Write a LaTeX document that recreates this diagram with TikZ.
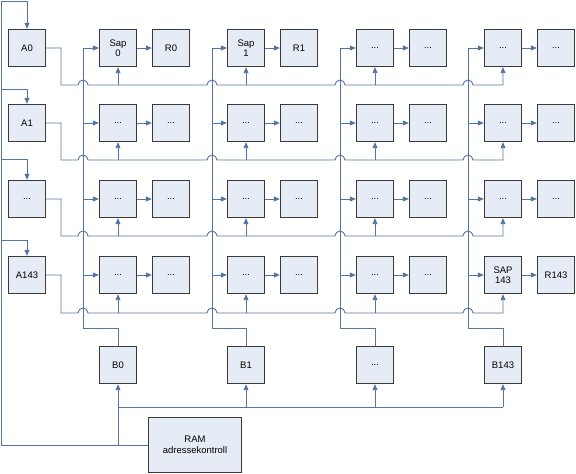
\documentclass[tikz,border=0pt]{standalone}
\usepackage{fontspec}
\setmainfont{Liberation Sans}
\usetikzlibrary{arrows.meta}
\definecolor{wirec}{HTML}{5474A4}
\definecolor{boxfill}{HTML}{E6ECF5}
\definecolor{boxline}{HTML}{3A3A3A}
\tikzset{
  box/.style={draw=boxline, fill=boxfill, line width=1.3pt, minimum width=37pt, minimum height=37pt,
    inner sep=1pt, align=center, font=\fontsize{9.5}{10.5}\selectfont},
  wire/.style={draw=wirec, line width=0.9pt},
  arr/.style={wire, -{Triangle[length=6pt,width=5pt]}}
}
\newcommand{\dd}{...}
\begin{document}
\begin{tikzpicture}[x=1pt,y=-1pt]
\useasboundingbox (0,0) rectangle (576,474);
% geometry
\def\colx{{118,246,375,503}}
\def\colv{{83,212,340,468}}
\def\rowy{{48,123,199,275}}
\def\rowl{{85,160,236,313}}
% A column
\node[box] (a0) at (27,48) {A0};
\node[box] (a1) at (27,123) {A1};
\node[box] (a2) at (27,199) {...};
\node[box] (a3) at (27,275) {A143};
% grid boxes
\foreach \c/\r/\st/\rt in {0/0/{Sap\\0}/R0, 1/0/{Sap\\1}/R1, 2/0/\dd/\dd, 3/0/\dd/\dd,
  0/1/\dd/\dd, 1/1/\dd/\dd, 2/1/\dd/\dd, 3/1/\dd/\dd,
  0/2/\dd/\dd, 1/2/\dd/\dd, 2/2/\dd/\dd, 3/2/\dd/\dd,
  0/3/\dd/\dd, 1/3/\dd/\dd, 2/3/\dd/\dd, 3/3/{SAP\\143}/R143}{
    \pgfmathsetmacro{\xx}{\colx[\c]}
    \pgfmathsetmacro{\yy}{\rowy[\r]}
    \node[box] (s\c\r) at (\xx,\yy) {\st};
    \node[box] (r\c\r) at (\xx+53,\yy) {\rt};
}
% B boxes
\node[box] (b0) at (118,365) {B0};
\node[box] (b1) at (246,365) {B1};
\node[box] (b2) at (375,365) {...};
\node[box] (b3) at (503,365) {B143};
% RAM
\node[box, minimum width=93pt, minimum height=55pt] (ram) at (195,445) {RAM\\adressekontroll};
% box-to-box arrows
\foreach \c in {0,1,2,3}{
  \foreach \r in {0,1,2,3}{
    \draw[arr] (s\c\r.east) -- (r\c\r.west);
  }
}
% left feed lines
\draw[arr] (ram.west) -| (1,1) -| (a0.north);
\draw[arr] (1,89) -| (a1.north);
\draw[arr] (1,159) -| (a2.north);
\draw[arr] (1,240) -| (a3.north);
% RAM to B boxes
\draw[arr] (b0.south |- ram.west) -- (b0.south);
\draw[wire] (b0.south |- 0,407) -- (b3.south |- 0,407);
\foreach \i in {1,2,3}{
  \draw[arr] (b\i.south |- 0,407) -- (b\i.south);
}
% B vertical buses
\foreach \i in {0,1,2,3}{
  \pgfmathsetmacro{\vx}{\colv[\i]}
  \draw[arr] (b\i.north) -- (b\i.north |- 0,328) -- (\vx,328) -- (\vx,48) -- (s\i0.west);
  \foreach \r in {1,2,3}{
    \pgfmathsetmacro{\yy}{\rowy[\r]}
    \draw[arr] (\vx,\yy) -- (s\i\r.west);
  }
}
% row lines with bridges
\foreach \r in {0,1,2,3}{
  \pgfmathsetmacro{\yl}{\rowl[\r]}
  \draw[arr] (a\r.east) -- (61,\rowy[\r]) -- (61,\yl) -- (78,\yl) arc[start angle=180,end angle=0,radius=5pt]
     -- (207,\yl) arc[start angle=180,end angle=0,radius=5pt]
     -- (335,\yl) arc[start angle=180,end angle=0,radius=5pt]
     -- (463,\yl) arc[start angle=180,end angle=0,radius=5pt]
     -- (503,\yl) -- (s3\r.south);
  \foreach \c in {0,1,2}{
    \draw[arr] (s\c\r.south |- 0,\yl) -- (s\c\r.south);
  }
}
\end{tikzpicture}
\end{document}
